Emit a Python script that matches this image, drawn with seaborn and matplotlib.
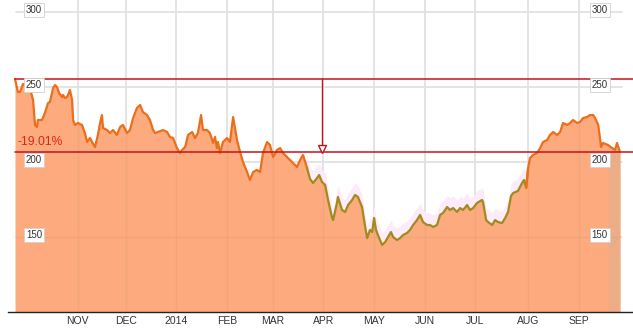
import numpy as np
import pandas as pd
import matplotlib
matplotlib.use("Agg")
import matplotlib.pyplot as plt
import matplotlib.transforms as mtransforms
import seaborn as sns

# ---- data (x = trading-session index from 2013-09-26) ----
session = [0, 1.2, 2.1, 3.3, 4.1, 6.2, 7.5, 8.3, 9.1, 9.5,
           11.2, 12.4, 13.7, 14.5, 15.8, 16.6, 17.4, 18.3, 19.5, 19.9,
           20.7, 21.6, 22.8, 23.7, 24.1, 24.9, 26.1, 27.8, 29.0, 29.9,
           31.1, 32.0, 33.2, 34.4, 35.3, 36.1, 36.5, 38.2, 39.4, 40.7,
           42.3, 43.6, 44.8, 46.5, 47.7, 49.0, 50.6, 51.9, 53.1, 54.8,
           56.0, 57.3, 58.1, 59.3, 61.4, 63.1, 64.3, 65.6, 67.2, 68.5,
           69.3, 70.6, 71.8, 73.5, 74.7, 75.9, 77.2, 78.0, 79.7, 80.9,
           82.2, 83.0, 83.8, 84.2, 85.1, 86.3, 88.0, 89.2, 90.5, 92.1,
           93.4, 94.6, 96.3, 97.5, 98.8, 100.4, 101.7, 102.9, 104.6, 105.8,
           107.1, 108.7, 110.0, 111.2, 112.9, 114.1, 115.4, 117.0, 118.3, 119.5,
           121.2, 122.4, 123.7, 125.3, 126.2, 127.4, 128.7, 129.9, 131.6, 132.0,
           133.6, 134.0, 135.7, 137.0, 138.2, 139.9, 141.1, 142.3, 144.0, 145.3,
           146.1, 147.3, 148.2, 149.0, 149.8, 150.6, 152.3, 153.6, 154.8, 156.0,
           156.9, 158.5, 159.8, 161.0, 162.7, 163.9, 165.2, 166.8, 168.1, 169.3,
           171.0, 172.2, 173.5, 175.1, 176.4, 177.6, 179.3, 180.5, 181.8, 183.4,
           184.7, 185.9, 187.6, 188.8, 190.1, 191.7, 193.8, 194.2, 195.5, 196.3,
           198.0, 199.2, 200.4, 202.1, 203.4, 204.6, 205.8, 206.7, 208.7, 210.4,
           211.2, 212.1, 212.9, 213.7, 215.0, 216.6, 217.9, 219.1, 220.8, 222.0,
           223.3, 224.9, 226.2, 227.4, 229.1, 230.3, 231.6, 233.2, 234.5, 235.7,
           237.4, 238.6, 239.9, 240.7, 242.0, 243.2, 244.0, 246.1, 247.8, 249.0,
           249.8, 251.0]

price = [255.4, 246.7, 246.7, 252.0, 251.3, 249.3, 241.3, 224.7, 223.3, 228.0,
         228.0, 232.7, 239.3, 240.0, 249.3, 251.3, 250.0, 246.0, 243.3, 244.7,
         242.7, 243.3, 248.0, 241.3, 228.0, 224.7, 226.0, 224.7, 219.3, 213.3,
         216.0, 213.3, 210.0, 218.0, 226.0, 231.3, 222.7, 221.3, 219.3, 221.3,
         218.0, 223.3, 224.7, 219.3, 221.3, 229.3, 236.0, 238.0, 233.3, 231.3,
         228.0, 221.3, 219.3, 220.0, 221.3, 220.0, 216.7, 216.0, 209.3, 206.0,
         208.0, 210.0, 218.0, 220.0, 216.0, 219.3, 231.3, 221.3, 221.3, 219.3,
         212.7, 216.7, 209.3, 213.3, 206.0, 213.3, 216.0, 213.3, 230.0, 214.7,
         206.7, 200.0, 193.3, 188.0, 193.3, 194.7, 193.3, 206.0, 213.3, 211.3,
         203.3, 208.0, 209.3, 206.0, 203.3, 201.3, 199.3, 196.7, 201.3, 204.7,
         196.0, 188.7, 186.0, 189.3, 191.3, 186.7, 184.7, 174.7, 162.7, 161.3,
         172.7, 176.7, 168.0, 166.7, 171.3, 174.7, 178.0, 176.7, 170.0, 156.7,
         149.3, 154.7, 153.3, 162.7, 154.7, 151.3, 144.7, 146.7, 150.0, 153.3,
         150.0, 148.0, 149.3, 151.3, 152.7, 154.7, 158.0, 161.3, 164.7, 160.0,
         158.0, 158.0, 156.7, 158.0, 164.7, 166.0, 170.0, 168.0, 169.3, 166.7,
         169.3, 168.0, 171.3, 168.0, 169.3, 172.7, 174.7, 173.3, 161.3, 160.0,
         158.0, 161.3, 160.0, 159.3, 162.7, 166.7, 177.3, 179.3, 180.7, 186.0,
         188.0, 182.7, 196.0, 202.7, 204.7, 206.0, 209.3, 213.3, 214.7, 218.0,
         220.0, 218.0, 220.0, 226.0, 224.7, 226.0, 228.0, 226.0, 226.7, 229.3,
         230.0, 231.3, 231.3, 229.3, 224.7, 210.0, 212.7, 211.3, 209.3, 208.0,
         212.7, 206.85]

month_labels = ["NOV", "DEC", "2014", "FEB", "MAR", "APR", "MAY", "JUN", "JUL", "AUG", "SEP"]
month_starts = ["2013-11-01", "2013-12-02", "2014-01-02", "2014-02-03", "2014-03-03",
                "2014-04-01", "2014-05-01", "2014-06-02", "2014-07-01", "2014-08-01",
                "2014-09-02"]
holidays = ["2013-11-28", "2013-12-25", "2014-01-01", "2014-01-20", "2014-02-17",
            "2014-04-18", "2014-05-26", "2014-07-04", "2014-09-01"]
y_ticks = [150, 200, 250, 300]

# trading calendar -> session index of each month start
days = pd.bdate_range("2013-09-26", "2014-09-30")
days = days[~days.isin(pd.to_datetime(holidays))]
tick_pos = [int(np.where(days == pd.Timestamp(d))[0][0]) for d in month_starts]

df = pd.DataFrame({"session": session, "price": price})
first, last = price[0], price[-1]
pct = (last / first - 1) * 100

sns.set_style("white")
plt.rcParams["font.family"] = ["Liberation Sans", "DejaVu Sans"]

W, H = 633, 328
fig = plt.figure(figsize=(W / 100, H / 100), dpi=100)
ax = fig.add_axes([8 / W, 16 / H, 625 / W, 312 / H])
x0 = -7 / 2.41
x1 = (633 - 15) / 2.41
ax.set_xlim(x0, x1)
ax.set_ylim(100, 308)

FILL = "#FCAA7E"
ORANGE = "#EB6E1A"
OLIVE = "#9E8C1E"
RED = "#C3121C"

# gridlines behind
for tp in tick_pos:
    ax.axvline(tp, color="#e2e2e2", lw=1.3, zorder=0)
for yv in y_ticks:
    ax.plot([0.5, 252], [yv, yv], color="#e2e2e2", lw=1.3, zorder=0)

s = np.array(session)
p = np.array(price)
mid = (s >= 120) & (s <= 213)
# soft pink halo above the line in the mid section
ax.fill_between(s[mid], p[mid], p[mid] + 8, color="#fdeafa", lw=0, zorder=1)

area = ax.fill_between(s, 100, p, color=FILL, lw=0, zorder=2)
ax.fill_between(s[s >= 246], 100, p[s >= 246], color="#EBAC86", lw=0, zorder=2)

# very faint gridlines seen through the fill (clipped to the filled area)
clip_path = area.get_paths()[0]
for tp in tick_pos:
    ln, = ax.plot([tp, tp], [100, 308], color="#b08070", lw=1.0, alpha=0.12, zorder=3)
    ln.set_clip_path(clip_path, ax.transData)
ln, = ax.plot([0.5, 252], [150, 150], color="#b08070", lw=1.0, alpha=0.12, zorder=3)
ln.set_clip_path(clip_path, ax.transData)

seg1 = df[df.session <= 121.2]
seg2 = df[(df.session >= 121.2) & (df.session <= 212.9)]
seg3 = df[df.session >= 212.1]
sns.lineplot(data=seg1, x="session", y="price", color=ORANGE, lw=1.6, ax=ax,
             sort=False, estimator=None, zorder=4)
sns.lineplot(data=seg2, x="session", y="price", color=OLIVE, lw=1.6, ax=ax,
             sort=False, estimator=None, zorder=4)
sns.lineplot(data=seg3, x="session", y="price", color=ORANGE, lw=1.6, ax=ax,
             sort=False, estimator=None, zorder=4)

# reference lines
ax.plot([0, x1], [first, first], color=RED, lw=1.1, zorder=5)
ax.plot([0, x1], [last, last], color=RED, lw=1.1, zorder=5)
arrow_x = 127.4
ax.plot([arrow_x, arrow_x], [first, last + 2], color=RED, lw=1.0, zorder=5)
ax.plot([arrow_x], [last + 1.7], marker="v", markersize=5.5, mfc="white",
        mec=RED, mew=1.0, zorder=6)
ax.text(1.2, last + 2.5, f"{pct:.2f}%", color="#D42A1E", fontsize=8.7,
        ha="left", va="bottom", zorder=6)

# y labels (boxed) on both sides
trans = mtransforms.blended_transform_factory(ax.transAxes, ax.transData)
for yv in y_ticks:
    for xf in (0.0416, 0.947):
        ax.text(xf, yv + 1.5, str(yv), transform=trans, fontsize=7, color="#333333",
                ha="center", va="center", zorder=7,
                bbox=dict(boxstyle="square,pad=0.18", fc="white", ec="#d0d0d0", lw=0.6))

ax.set_xticks(tick_pos)
ax.set_xticklabels(month_labels, fontsize=7.5, color="#333333")
ax.tick_params(axis="x", length=0, pad=3)
ax.set_yticks([])
ax.set_xlabel("")
ax.set_ylabel("")
for side in ("left", "right", "top"):
    ax.spines[side].set_visible(False)
ax.spines["bottom"].set_color("#222222")
ax.spines["bottom"].set_linewidth(1.0)
ax.spines["bottom"].set_zorder(8)

fig.savefig("out.png", dpi=100)
